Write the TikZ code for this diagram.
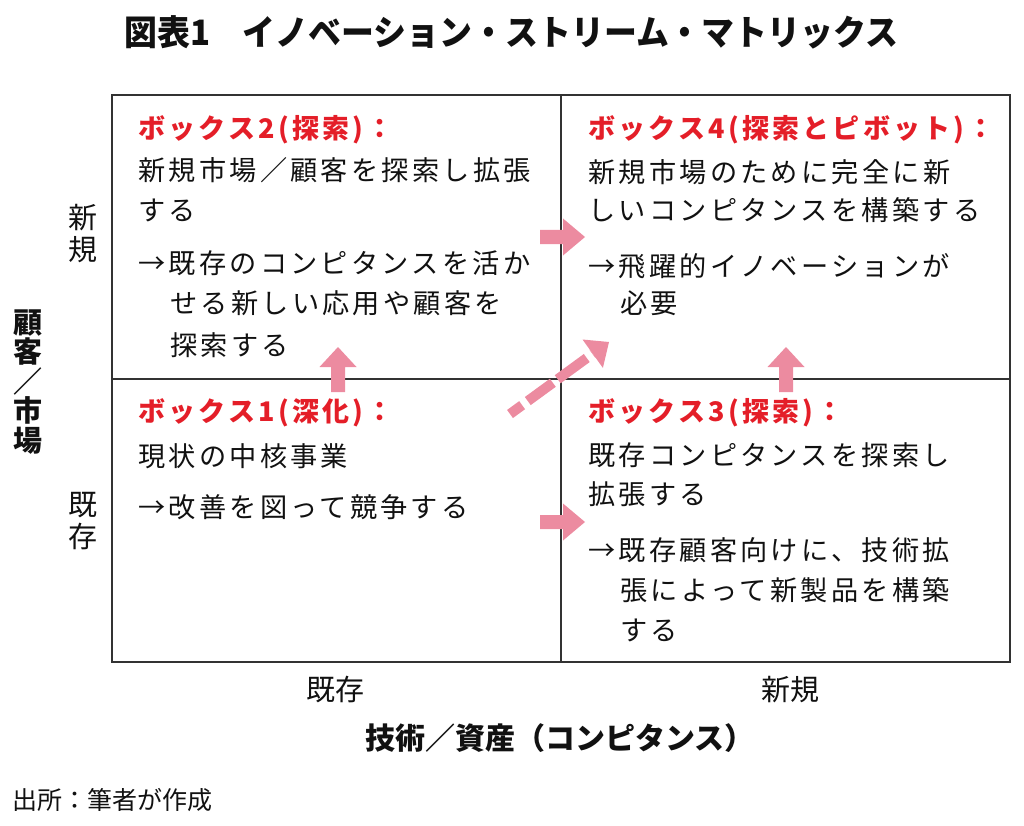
\documentclass[tikz,border=0pt]{standalone}
\usepackage{fontspec}
\setmainfont{Noto Sans CJK JP}
\newfontfamily\boxf{Noto Sans CJK JP}[LetterSpace=12]
\newfontfamily\plainf{Noto Sans CJK JP}
\newfontfamily\titlef{Noto Sans CJK JP}[FakeStretch=0.94]
\definecolor{pinkA}{RGB}{236,139,160}
\definecolor{redH}{RGB}{228,30,40}
\definecolor{gridc}{RGB}{50,50,50}
\definecolor{textc}{RGB}{17,17,17}
\tikzset{
  body/.style={anchor=west, inner sep=0pt, text=textc, font=\boxf\fontsize{27.2}{30}\selectfont},
  head/.style={anchor=west, inner sep=0pt, text=redH, font=\boxf\bfseries\fontsize{27}{30}\selectfont},
  axislab/.style={inner sep=0pt, text=textc, align=center, font=\plainf\fontsize{29}{32}\selectfont},
  axistitle/.style={inner sep=0pt, text=textc, align=center, font=\plainf\bfseries\fontsize{29}{29.5}\selectfont},
  xtitlestyle/.style={inner sep=0pt, text=textc, font=\plainf\bfseries\fontsize{30}{32}\selectfont},
  gridline/.style={draw=gridc, line width=1.8pt},
  blockarr/.style={fill=pinkA, draw=none},
  dasharr/.style={draw=pinkA, line width=10pt, dash pattern=on 15pt off 7pt on 31pt off 6pt on 36pt off 7pt}
}
\begin{document}
\begin{tikzpicture}[x=1pt,y=-1pt]
\useasboundingbox (0,0) rectangle (1024,826);
% title
\node[anchor=west, inner sep=0pt, text=textc, font=\titlef\bfseries\fontsize{35}{40}\selectfont] (title) at (124,32) {図表1　イノベーション・ストリーム・マトリックス};
% grid
\draw[gridline] (112,95) rectangle (1010,662);
\draw[gridline] (561,95) -- (561,662);
\draw[gridline] (112,379) -- (1010,379);
% box 2
\node[head] (b2h) at (138,130) {ボックス2(探索)：};
\node[body] (b2a) at (138,170) {新規市場／顧客を探索し拡張};
\node[body] (b2b) at (138,210) {する};
\node[body] (b2c) at (138,263) {→既存のコンピタンスを活か};
\node[body] (b2d) at (170,303) {せる新しい応用や顧客を};
\node[body] (b2e) at (170,345) {探索する};
% box 4
\node[head] (b4h) at (588,130) {ボックス4(探索とピボット)：};
\node[body] (b4a) at (588,172) {新規市場のために完全に新};
\node[body] (b4b) at (588,210) {しいコンピタンスを構築する};
\node[body] (b4c) at (588,266) {→飛躍的イノベーションが};
\node[body] (b4d) at (620,303) {必要};
% box 1
\node[head] (b1h) at (138,413) {ボックス1(深化)：};
\node[body] (b1a) at (138,456) {現状の中核事業};
\node[body] (b1b) at (138,507) {→改善を図って競争する};
% box 3
\node[head] (b3h) at (588,413) {ボックス3(探索)：};
\node[body] (b3a) at (588,455) {既存コンピタンスを探索し};
\node[body] (b3b) at (588,494) {拡張する};
\node[body] (b3c) at (588,550) {→既存顧客向けに、技術拡};
\node[body] (b3d) at (620,590) {張によって新製品を構築};
\node[body] (b3e) at (620,630) {する};
% axis labels
\node[axislab] (ynew) at (83,234) {新\\規};
\node[axislab] (yold) at (83,521) {既\\存};
\node[axistitle] (ytitle) at (28,382) {顧\\客\\／\\市\\場};
\node[axislab] (xold) at (335,690) {既存};
\node[axislab] (xnew) at (790,690) {新規};
\node[xtitlestyle] (xtitle) at (560,738) {技術／資産（コンピタンス）};
\node[anchor=west, inner sep=0pt, text=textc, font=\plainf\fontsize{25}{28}\selectfont] (src) at (12,800) {出所：筆者が作成};
% block arrows
\fill[blockarr] (331,392) -- (331,367) -- (319.5,367) -- (338,347) -- (356.5,367) -- (345,367) -- (345,392) -- cycle;
\fill[blockarr] (779,392) -- (779,367) -- (767.5,367) -- (786,347) -- (804.5,367) -- (793,367) -- (793,392) -- cycle;
\fill[blockarr] (540,230) -- (563,230) -- (563,218.5) -- (585,237) -- (563,255.5) -- (563,244) -- (540,244) -- cycle;
\fill[blockarr] (540,515) -- (563,515) -- (563,503.5) -- (585,522) -- (563,540.5) -- (563,529) -- (540,529) -- cycle;
% dashed diagonal arrow
\coordinate (ds) at (510,414);
\coordinate (db) at (592.7,353.7);
\draw[dasharr] (ds) -- (db);
\fill[blockarr] (609,342) -- (602.9,367.9) -- (582.5,339.5) -- cycle;
\end{tikzpicture}
\end{document}
